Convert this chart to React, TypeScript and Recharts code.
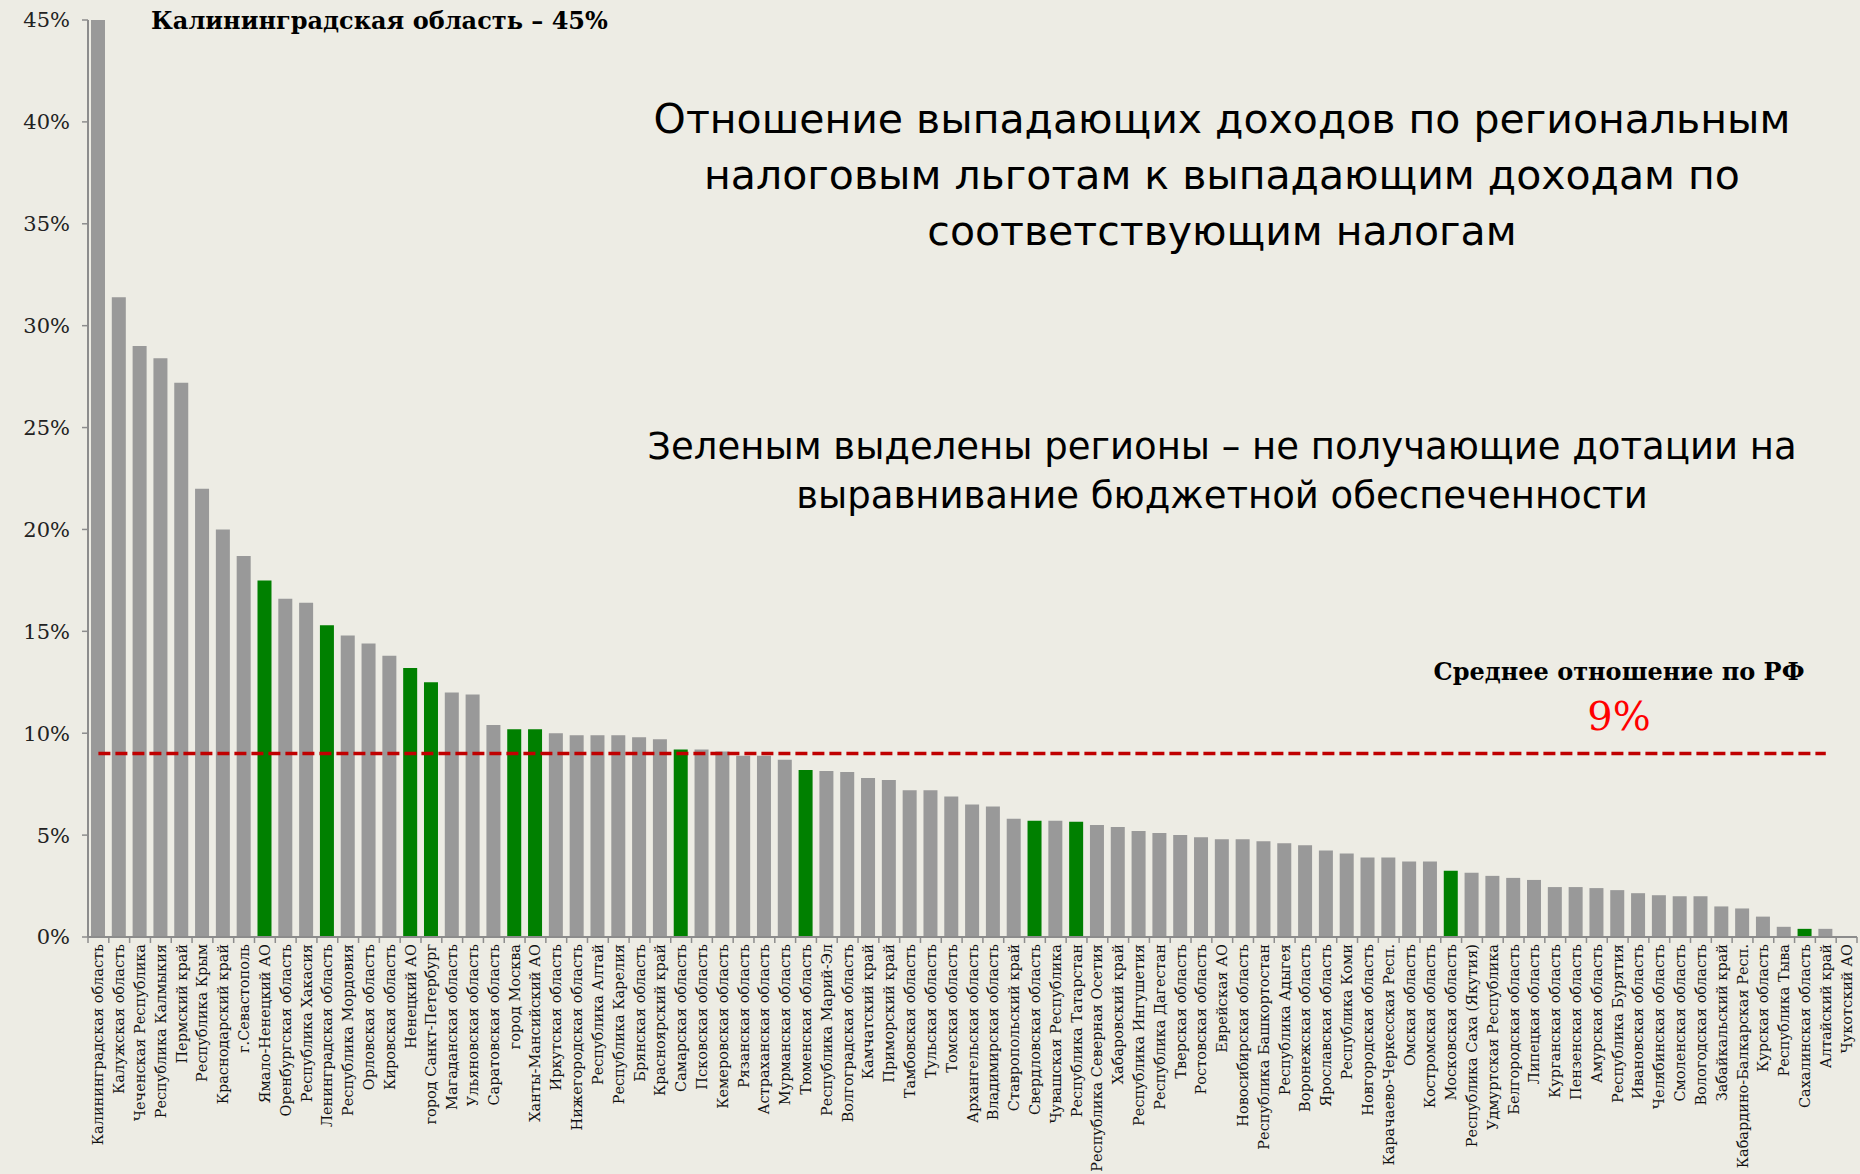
import { BarChart, Bar, XAxis, YAxis, Cell, ReferenceLine } from 'recharts';

const regions = [
  'Калининградская область', 'Калужская область', 'Чеченская Республика', 'Республика Калмыкия',
  'Пермский край', 'Республика Крым', 'Краснодарский край', 'г.Севастополь', 'Ямало-Ненецкий АО',
  'Оренбургская область', 'Республика Хакасия', 'Ленинградская область', 'Республика Мордовия',
  'Орловская область', 'Кировская область', 'Ненецкий АО', 'город Санкт-Петербург',
  'Магаданская область', 'Ульяновская область', 'Саратовская область', 'город Москва',
  'Ханты-Мансийский АО', 'Иркутская область', 'Нижегородская область', 'Республика Алтай',
  'Республика Карелия', 'Брянская область', 'Красноярский край', 'Самарская область',
  'Псковская область', 'Кемеровская область', 'Рязанская область', 'Астраханская область',
  'Мурманская область', 'Тюменская область', 'Республика Марий-Эл', 'Волгоградская область',
  'Камчатский край', 'Приморский край', 'Тамбовская область', 'Тульская область',
  'Томская область', 'Архангельская область', 'Владимирская область', 'Ставропольский край',
  'Свердловская область', 'Чувашская Республика', 'Республика Татарстан',
  'Республика Северная Осетия', 'Хабаровский край', 'Республика Ингушетия', 'Республика Дагестан',
  'Тверская область', 'Ростовская область', 'Еврейская АО', 'Новосибирская область',
  'Республика Башкортостан', 'Республика Адыгея', 'Воронежская область', 'Ярославская область',
  'Республика Коми', 'Новгородская область', 'Карачаево-Черкесская Респ.', 'Омская область',
  'Костромская область', 'Московская область', 'Республика Саха (Якутия)', 'Удмуртская Республика',
  'Белгородская область', 'Липецкая область', 'Курганская область', 'Пензенская область',
  'Амурская область', 'Республика Бурятия', 'Ивановская область', 'Челябинская область',
  'Смоленская область', 'Вологодская область', 'Забайкальский край', 'Кабардино-Балкарская Респ.',
  'Курская область', 'Республика Тыва', 'Сахалинская область', 'Алтайский край', 'Чукотский АО',
];

// % of lost revenue from regional tax benefits
const ratios = [
  45.0, 31.4, 29.0, 28.4, 27.2, 22.0, 20.0, 18.7, 17.5, 16.6, 16.4, 15.3, 14.8, 14.4, 13.8, 13.2,
  12.5, 12.0, 11.9, 10.4, 10.2, 10.2, 10.0, 9.9, 9.9, 9.9, 9.8, 9.7, 9.2, 9.2, 9.1, 8.9, 8.9, 8.7,
  8.2, 8.15, 8.1, 7.8, 7.7, 7.2, 7.2, 6.9, 6.5, 6.4, 5.8, 5.7, 5.7, 5.65, 5.5, 5.4, 5.2, 5.1, 5.0,
  4.9, 4.8, 4.8, 4.7, 4.6, 4.5, 4.25, 4.1, 3.9, 3.9, 3.7, 3.7, 3.25, 3.15, 3.0, 2.9, 2.8, 2.45,
  2.45, 2.4, 2.3, 2.15, 2.05, 2.0, 2.0, 1.5, 1.4, 1.0, 0.5, 0.4, 0.4, 0.05,
];

// regions without equalization grants (green)
const noGrants = [
  'Ямало-Ненецкий АО', 'Ленинградская область', 'Ненецкий АО', 'город Санкт-Петербург',
  'город Москва', 'Ханты-Мансийский АО', 'Самарская область', 'Тюменская область',
  'Свердловская область', 'Республика Татарстан', 'Московская область', 'Сахалинская область',
];

const yTicks = [0, 5, 10, 15, 20, 25, 30, 35, 40, 45];
const average = 9;

const data = regions.map((name, i) => ({ name, value: ratios[i] }));

const W = 1860;
const H = 1174;
const LEFT = 88;
const RIGHT = 3;
const BAND = (W - LEFT - RIGHT) / regions.length;
const BG = '#edece4';
const AXIS = '#8c8c8c';
const SERIF = '"DejaVu Serif", serif';
const SANS = '"DejaVu Sans", sans-serif';

function RegionTick(props: any) {
  const { x, y, payload, index } = props;
  const axisY = y - 7;
  return (
    <g>
      <line x1={x - BAND / 2} x2={x - BAND / 2} y1={axisY} y2={axisY + 6} stroke={AXIS} strokeWidth={1.5} />
      {index === regions.length - 1 && (
        <line x1={x + BAND / 2} x2={x + BAND / 2} y1={axisY} y2={axisY + 6} stroke={AXIS} strokeWidth={1.5} />
      )}
      <text
        transform={`translate(${x},${y}) rotate(-90)`}
        textAnchor="end"
        dominantBaseline="central"
        fontFamily={SERIF}
        fontSize={14.5}
        fill="#111"
      >
        {payload.value}
      </text>
    </g>
  );
}

export default function App() {
  return (
    <div style={{ position: 'absolute', left: 0, top: 0, width: W, height: H, background: BG, overflow: 'hidden' }}>
      <BarChart width={W} height={H} data={data} margin={{ top: 20, right: RIGHT, left: 0, bottom: 0 }}>
        <XAxis
          dataKey="name"
          interval={0}
          height={237}
          tickSize={6}
          tickMargin={1}
          tickLine={false}
          axisLine={{ stroke: AXIS, strokeWidth: 2 }}
          tick={<RegionTick />}
        />
        <YAxis
          width={LEFT}
          domain={[0, 45]}
          ticks={yTicks}
          tickFormatter={(v: number) => `${v}%`}
          axisLine={{ stroke: AXIS, strokeWidth: 2 }}
          tickLine={{ stroke: AXIS, strokeWidth: 1.5 }}
          tickSize={6}
          tickMargin={12}
          tick={{ fontFamily: SERIF, fontSize: 21, fill: '#222' }}
        />
        <Bar dataKey="value" barSize={14} isAnimationActive={false}>
          {data.map((d) => (
            <Cell key={d.name} fill={noGrants.includes(d.name) ? '#008000' : '#999999'} />
          ))}
        </Bar>
        <ReferenceLine
          segment={[{ x: regions[0], y: average }, { x: regions[regions.length - 2], y: average }]}
          stroke="#c00000"
          strokeWidth={3.5}
          strokeDasharray="12 5"
        />
      </BarChart>

      <div style={{ position: 'absolute', left: 151, top: 6, fontFamily: SERIF, fontWeight: 'bold', fontSize: 24, color: '#000', whiteSpace: 'nowrap' }}>
        Калининградская область – 45%
      </div>

      <div style={{ position: 'absolute', left: 620, width: 1204, top: 91, textAlign: 'center', fontFamily: SANS, fontSize: 41, lineHeight: '56px', color: '#000' }}>
        Отношение выпадающих доходов по региональным<br />
        налоговым льготам к выпадающим доходам по<br />
        соответствующим налогам
      </div>

      <div style={{ position: 'absolute', left: 620, width: 1204, top: 422, textAlign: 'center', fontFamily: SANS, fontSize: 37, lineHeight: '49px', color: '#000' }}>
        Зеленым выделены регионы – не получающие дотации на<br />
        выравнивание бюджетной обеспеченности
      </div>

      <div style={{ position: 'absolute', left: 1419, width: 400, top: 657, textAlign: 'center', fontFamily: SERIF, fontWeight: 'bold', fontSize: 24, color: '#000' }}>
        Среднее отношение по РФ
      </div>
      <div style={{ position: 'absolute', left: 1419, width: 400, top: 693, textAlign: 'center', fontFamily: SERIF, fontSize: 40, color: '#ff0000' }}>
        9%
      </div>
    </div>
  );
}
